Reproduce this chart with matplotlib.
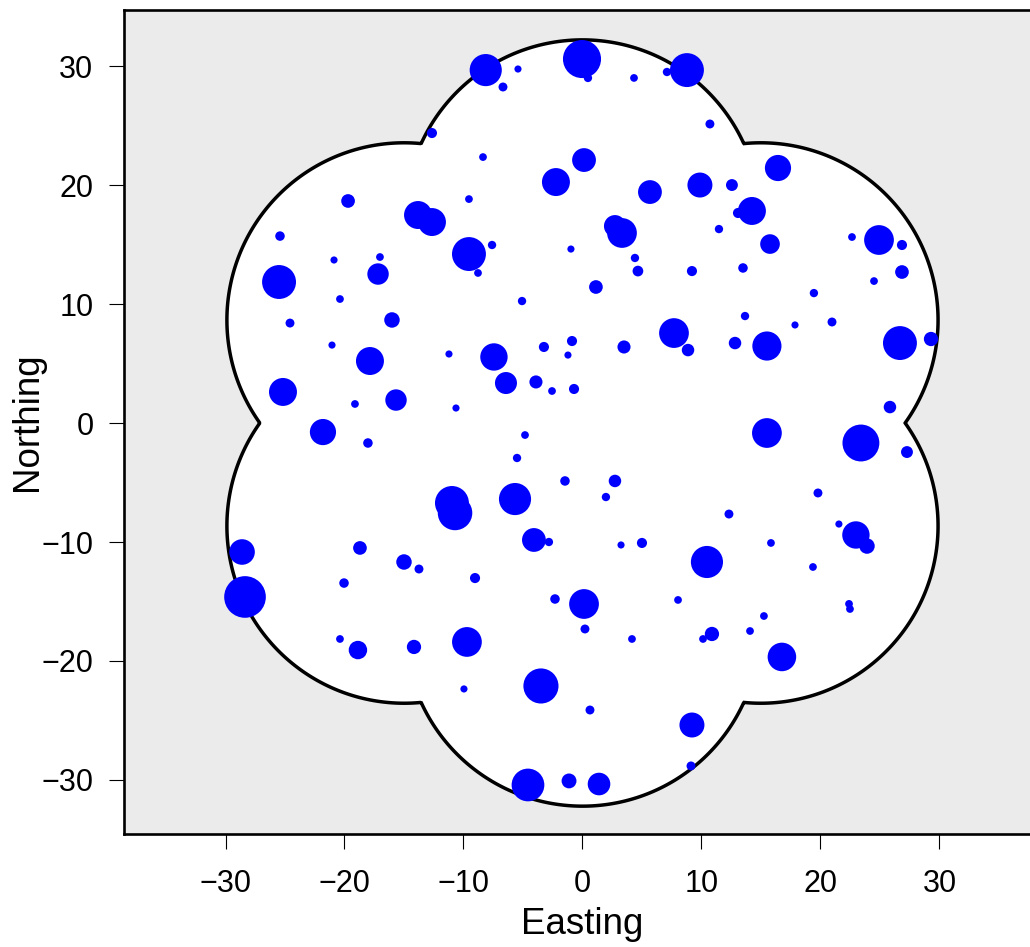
import numpy as np
import matplotlib
matplotlib.use("Agg")
import matplotlib.pyplot as plt
from matplotlib.patches import Circle, Polygon
from matplotlib.collections import PatchCollection

# point locations (Easting, Northing) and marks (circle diameter, same units)
easting = [-8.13, -5.42, -6.68, -0.04, 0.46, 4.33, 7.10, 8.78, 10.71, -12.65,
           -8.36, 0.13, -2.23, 5.67, 9.87, 12.56, 16.43, -19.70, -9.54, -13.82,
           -12.65, 2.73, 3.32, 14.24, 13.07, 11.47, 15.76, -25.42, -17.02, -9.54,
           -7.60, -8.78, -17.18, -20.88, -25.50, -0.97, 4.41, 4.66, 1.13, 9.20,
           13.49, 22.65, 24.92, 26.85, 26.85, 24.50, 19.45, -5.08, -20.38, -24.58,
           -16.01, 13.66, 17.86, 20.97, 7.69, 8.87, 12.82, 15.50, 26.68, 29.29,
           -21.05, -17.86, -11.22, -7.44, -3.24, -0.88, -1.22, 3.49, -6.43, -3.91,
           -2.56, -0.71, -25.17, -19.12, -15.67, -10.63, 25.84, -21.81, -18.03, -4.83,
           15.50, 23.40, 27.27, -5.50, -1.47, 2.73, 1.97, -10.97, -10.71, -5.67,
           19.79, 12.31, -28.61, 21.55, 22.98, 23.91, -4.08, -2.82, 3.24, 5.00,
           10.46, 15.84, -18.70, -15.00, -13.74, -9.03, -20.04, 19.37, -28.36, -2.31,
           0.13, 8.03, 22.40, 22.48, 15.25, 0.21, 4.16, 10.88, 10.13, 14.08,
           -20.38, -18.87, -14.16, -9.71, 16.76, -3.49, -9.96, 0.63, 9.20, 9.12,
           -4.58, -1.13, 1.39]
northing = [29.66, 29.75, 28.24, 30.59, 29.00, 29.00, 29.50, 29.66, 25.13, 24.37,
            22.35, 22.10, 20.25, 19.41, 20.00, 20.00, 21.43, 18.66, 18.82, 17.48,
            16.89, 16.55, 15.97, 17.82, 17.65, 16.30, 15.04, 15.71, 13.95, 14.20,
            14.96, 12.61, 12.52, 13.70, 11.85, 14.62, 13.87, 12.77, 11.43, 12.77,
            13.03, 15.63, 15.38, 14.96, 12.69, 11.93, 10.92, 10.25, 10.42, 8.40,
            8.66, 8.99, 8.24, 8.49, 7.56, 6.13, 6.72, 6.47, 6.72, 7.06,
            6.55, 5.21, 5.80, 5.55, 6.39, 6.89, 5.71, 6.39, 3.36, 3.45,
            2.69, 2.86, 2.61, 1.60, 1.93, 1.26, 1.34, -0.76, -1.68, -1.01,
            -0.84, -1.68, -2.44, -2.94, -4.87, -4.87, -6.22, -6.72, -7.56, -6.39,
            -5.88, -7.65, -10.84, -8.49, -9.41, -10.34, -9.83, -10.00, -10.25, -10.08,
            -11.68, -10.08, -10.50, -11.68, -12.27, -13.03, -13.45, -12.10, -14.62, -14.79,
            -15.21, -14.87, -15.20, -15.63, -16.22, -17.31, -18.15, -17.73, -18.15, -17.48,
            -18.15, -19.08, -18.82, -18.40, -19.66, -22.10, -22.35, -24.12, -25.38, -28.82,
            -30.42, -30.08, -30.34]
marks = [2.70, 0.60, 0.75, 3.20, 0.70, 0.65, 0.70, 2.85, 0.75, 0.85,
         0.65, 2.00, 2.35, 2.00, 2.10, 1.00, 2.20, 1.15, 0.65, 2.35,
         2.35, 1.85, 2.50, 2.35, 0.85, 0.70, 1.65, 0.80, 0.65, 2.85,
         0.70, 0.65, 1.80, 0.60, 2.85, 0.60, 0.70, 0.90, 1.15, 0.85,
         0.80, 0.65, 2.50, 0.85, 1.15, 0.65, 0.70, 0.70, 0.65, 0.75,
         1.30, 0.70, 0.60, 0.75, 2.50, 1.05, 1.05, 2.45, 2.85, 1.20,
         0.60, 2.35, 0.60, 2.30, 0.85, 0.85, 0.60, 1.10, 1.85, 1.10,
         0.65, 0.85, 2.35, 0.65, 1.80, 0.60, 1.05, 2.20, 0.80, 0.65,
         2.50, 3.10, 1.00, 0.70, 0.80, 1.05, 0.70, 2.85, 2.90, 2.70,
         0.75, 0.75, 2.15, 0.60, 2.30, 1.30, 2.00, 0.70, 0.60, 0.85,
         2.70, 0.65, 1.15, 1.30, 0.75, 0.85, 0.80, 0.65, 3.50, 0.80,
         2.50, 0.65, 0.65, 0.65, 0.65, 0.75, 0.65, 1.20, 0.65, 0.65,
         0.65, 1.55, 1.20, 2.50, 2.40, 2.95, 0.60, 0.75, 2.10, 0.75,
         2.75, 1.25, 1.90]

# window: union of six discs arranged around the origin
lobe_angles = [90, 30, -30, -90, -150, 150]
lobe_dist = 17.3
lobe_rad = 14.9

theta = np.linspace(0, 2 * np.pi, 2000)
rad = np.zeros_like(theta)
for a in np.deg2rad(lobe_angles):
    dlt = theta - a
    disc = lobe_rad**2 - (lobe_dist * np.sin(dlt))**2
    t = np.where(disc >= 0, lobe_dist * np.cos(dlt) + np.sqrt(np.clip(disc, 0, None)), 0)
    rad = np.maximum(rad, t)
bx, by = rad * np.cos(theta), rad * np.sin(theta)

plt.rcParams['font.family'] = ['Liberation Sans', 'DejaVu Sans']

fig = plt.figure(figsize=(10.3, 9.47), dpi=100)
ax = fig.add_axes([124 / 1030, 113 / 947, (1040 - 124) / 1030, 824 / 947])
ax.set_facecolor('#EBEBEB')

win = Polygon(np.column_stack([bx, by]), closed=True, facecolor='white',
              edgecolor='black', linewidth=2.5, zorder=1)
ax.add_patch(win)

circles = [Circle((x, y), m / 2) for x, y, m in zip(easting, northing, marks)]
ax.add_collection(PatchCollection(circles, facecolor='#0000FF', edgecolor='none', zorder=2))

ax.set_xlim(-38.53, 38.45)
ax.set_ylim(-34.54, 34.71)

ticks = [-30, -20, -10, 0, 10, 20, 30]
ax.set_xticks(ticks)
ax.set_yticks(ticks)
ax.set_xticklabels(['\u2212%d' % -t if t < 0 else str(t) for t in ticks])
ax.set_yticklabels(['\u2212%d' % -t if t < 0 else str(t) for t in ticks])
ax.tick_params(direction='out', length=11, width=0.8, labelsize=22)
ax.tick_params(axis='x', pad=14)
ax.tick_params(axis='y', pad=11)

for s in ax.spines.values():
    s.set_linewidth(1.9)

ax.set_xlabel('Easting', fontsize=26.5)
ax.set_ylabel('Northing', fontsize=26.5)
ax.xaxis.label.set_va('center')
ax.yaxis.label.set_va('center')
ax.xaxis.set_label_coords(0.5, (834 - 924) / 824)
ax.yaxis.set_label_coords((28 - 124) / 916, 0.5)

fig.savefig('out.png', dpi=100)
